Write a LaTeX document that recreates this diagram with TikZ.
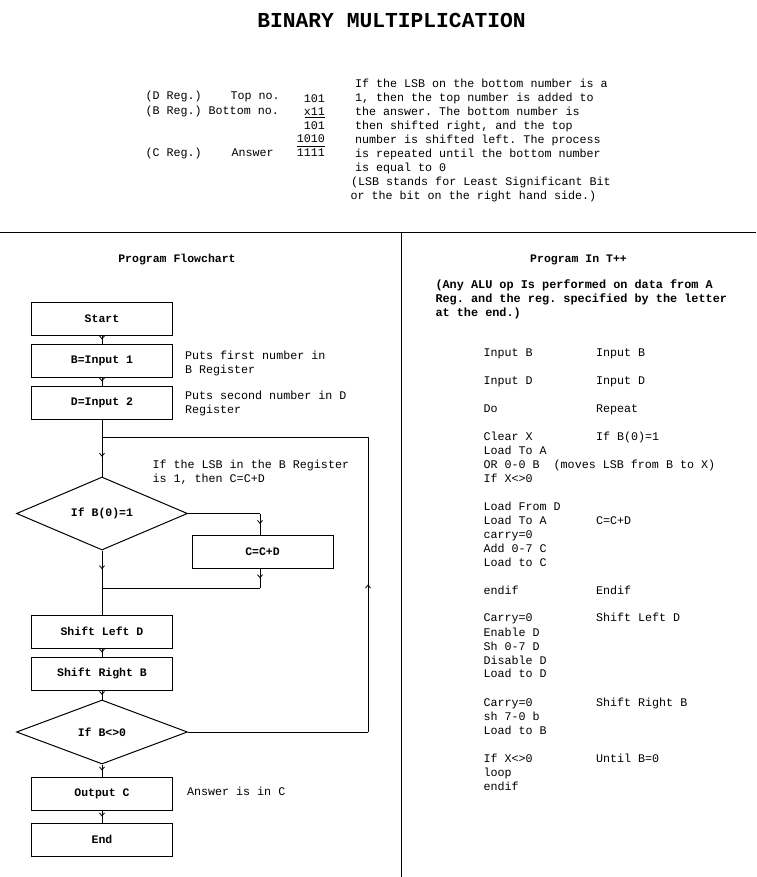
\documentclass[tikz,border=0pt]{standalone}
\usepackage{fontspec}
\setmonofont{Liberation Mono}
\usetikzlibrary{shapes.geometric,arrows.meta,decorations.markings}
\newcommand{\codefont}{\ttfamily\fontsize{11.7}{14}\selectfont}
\newcommand{\boldcode}{\ttfamily\bfseries\fontsize{11.5}{14}\selectfont}
\newcommand{\alufont}{\ttfamily\bfseries\fontsize{11.85}{14}\selectfont}
\newcommand{\titlefont}{\ttfamily\bfseries\fontsize{21.3}{24}\selectfont}
\begin{document}
\begin{tikzpicture}[x=1pt,y=-1pt,line width=1pt]
\tikzset{
 txt/.style={font=\codefont, inner sep=0pt, anchor=base west},
 numtxt/.style={font=\codefont, inner sep=0pt, anchor=base east},
 btxt/.style={font=\alufont, inner sep=0pt, anchor=base west},
 head/.style={font=\boldcode, inner sep=0pt, anchor=base},
 box/.style={draw, line width=1pt, minimum width=141pt, minimum height=33pt, inner sep=0pt, font=\boldcode},
 dec/.style={diamond, draw, line width=1pt, minimum width=171pt, minimum height=65pt, inner sep=0pt, font=\boldcode},
 midarrow/.style={postaction={decorate}, decoration={markings, mark=at position 0.5 with {\arrow{Straight Barb[length=3pt,width=5pt,line width=0.8pt]}}}},
}
\useasboundingbox (0,0) rectangle (756,877);

% title
\node[font=\titlefont, inner sep=0pt, anchor=base] (title) at (391.5,27.5) {BINARY MULTIPLICATION};

% multiplication example
\node[txt] (dreg) at (145,100) {(D Reg.)};
\node[txt] (topno) at (230,100) {Top no.};
\node[txt] (breg) at (145,114.5) {(B Reg.) Bottom no.};
\node[txt] (creg) at (145,156.5) {(C Reg.)};
\node[txt] (ans) at (231,156.5) {Answer};
\node[numtxt] (n1) at (325.5,102.5) {101};
\node[numtxt] (n2) at (325.5,116) {x11};
\node[numtxt] (n3) at (325.5,129.5) {101};
\node[numtxt] (n4) at (325.5,143) {1010};
\node[numtxt] (n5) at (325.5,156.5) {1111};
\draw (305,117.7) -- (325,117.7);
\draw (297,147) -- (325,147);

% explanation
\foreach \t [count=\i] in {If the LSB on the bottom number is a,{1, then the top number is added to},the answer. The bottom number is,{then shifted right, and the top},number is shifted left. The process,is repeated until the bottom number,is equal to 0}
  \node[txt] (ex\i) at (354.5,73.5+14*\i) {\t};
\node[txt] (ex8) at (350.5,185.5) {(LSB stands for Least Significant Bit};
\node[txt] (ex9) at (350,199.5) {or the bit on the right hand side.)};

% separators
\draw (0,233) -- (756,233);
\draw (401,233) -- (401,877);

% headings
\node[head] (fhead) at (177,262.5) {Program Flowchart};
\node[head] (phead) at (578.5,262.5) {Program In T++};
\node[btxt] (alu1) at (435,288.5) {(Any ALU op Is performed on data from A};
\node[btxt] (alu2) at (435,302.5) {Reg. and the reg. specified by the letter};
\node[btxt] (alu3) at (435,316.5) {at the end.)};

% flowchart
\node[box] (start) at (102,318.5) {Start};
\node[box] (b1) at (102,360.5) {B=Input 1};
\node[box] (d2) at (102,402.5) {D=Input 2};
\node[dec] (if1) at (102,513.5) {If B(0)=1};
\node[box] (ccd) at (262.5,551.5) {C=C+D};
\node[box] (sl) at (102,631.5) {Shift Left D};
\node[box] (sr) at (102,673.5) {Shift Right B};
\node[dec, minimum height=64pt] (if2) at (102,732) {If B<>0};
\node[box] (outc) at (102,793.5) {Output C};
\node[box] (endb) at (102,839.5) {End};

\coordinate (j1) at (102,437);
\coordinate (r2) at (368,437);
\coordinate (r1) at (368,732);
\coordinate (c1) at (260,513.5);
\coordinate (c2) at (260,588);
\coordinate (j2) at (102,588);

\draw[midarrow] (start) -- (b1);
\draw[midarrow] (b1) -- (d2);
\draw (d2.south) -- (j1);
\draw[midarrow] (j1) -- (if1.north);
\draw (if1.east) -- (c1);
\draw[midarrow] (c1) -- (c1 |- ccd.north);
\draw[midarrow] (c1 |- ccd.south) -- (c2);
\draw (c2) -- (j2);
\draw[midarrow] (if1.south) -- (j2);
\draw (j2) -- (sl.north);
\draw[midarrow] (sl) -- (sr);
\draw[midarrow] (sr) -- (if2);
\draw[midarrow] (if2) -- (outc);
\draw[midarrow] (outc) -- (endb);
\draw (if2.east) -- (r1);
\draw[midarrow] (r1) -- (r2);
\draw (r2) -- (j1);

% flowchart notes
\node[txt] (note1a) at (184.5,359.5) {Puts first number in};
\node[txt] (note1b) at (184.5,373) {B Register};
\node[txt] (note2a) at (184.5,399) {Puts second number in D};
\node[txt] (note2b) at (184.5,413) {Register};
\node[txt] (note3a) at (152,468) {If the LSB in the B Register};
\node[txt] (note3b) at (152,482) {is 1, then C=C+D};
\node[txt] (note4) at (186.5,795.5) {Answer is in C};

% program code, column 1
\foreach \t/\yy [count=\i] in {Input B/356,Input D/384,Do/412,Clear X/440,Load To A/454,{OR 0-0 B\ \ (moves LSB from B to X)}/468,If X<>0/482,Load From D/510,Load To A/524,carry=0/538,Add 0-7 C/552,Load to C/566,endif/594,Carry=0/621.5,Enable D/636,Sh 0-7 D/650,Disable D/664,Load to D/677.5,Carry=0/706,sh 7-0 b/720,Load to B/734,If X<>0/762,loop/776,endif/790}
  \node[txt] (ca\i) at (483,\yy) {\t};
% program code, column 2
\foreach \t/\yy [count=\i] in {Input B/356,Input D/384,Repeat/412,If B(0)=1/440,C=C+D/524,Endif/594,Shift Left D/621.5,Shift Right B/706,Until B=0/762}
  \node[txt] (cb\i) at (595.5,\yy) {\t};
\end{tikzpicture}
\end{document}
